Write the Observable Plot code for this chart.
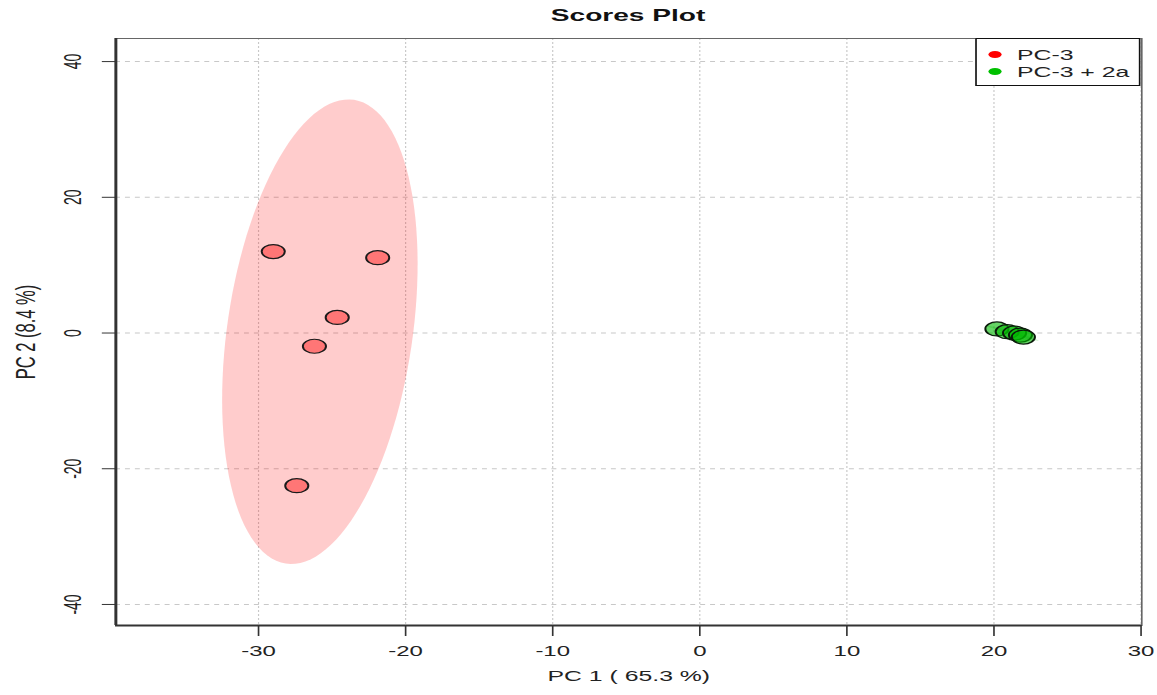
<!DOCTYPE html>
<html>
<head>
<meta charset="utf-8">
<script src="https://cdn.jsdelivr.net/npm/d3@7"></script>
<script src="https://cdn.jsdelivr.net/npm/@observablehq/plot@0.6"></script>
<style>
  html, body { margin: 0; padding: 0; background: #fff; overflow: hidden; }
  #wrap { position: relative; width: 700px; height: 695px; transform: scaleX(1.652857); transform-origin: 0 0; font-family: "Liberation Sans", Arial, sans-serif; }
  #title { height: 30px; line-height: 32px; text-align: center; font-weight: bold; font-size: 17px; color: #111; width: 700px; box-sizing: border-box; padding-left: 60px; }
  #legend { position: absolute; left: 589.9px; top: 38px; width: 100.4px; height: 48px; box-sizing: border-box; border: 1px solid #111; background: #fff; }
  .lrow { position: absolute; left: 24.4px; font-size: 15px; line-height: 14px; color: #222; white-space: nowrap; }
  .ldot { position: absolute; width: 8px; height: 7px; border-radius: 50%; }
</style>
</head>
<body>
<div id="wrap">
  <div id="title"></div>
  <div id="chart"></div>
  <div id="legend"></div>
</div>
<script>
// ---- data ----
const titleText = "Scores Plot";
const xLabel = "PC 1 ( 65.3 %)";
const yLabel = "PC 2 (8.4 %)";
const groups = ["PC-3", "PC-3 + 2a"];
const groupColors = ["#FF0000", "#00C000"];
const xTicks = [-30, -20, -10, 0, 10, 20, 30];
const yTicks = [-40, -20, 0, 20, 40];
const pc3X = [-29.0, -21.9, -24.65, -26.2, -27.4];
const pc3Y = [12.0, 11.1, 2.3, -1.95, -22.5];
const pc3aX = [20.2, 20.9, 21.4, 21.8, 22.0];
const pc3aY = [0.6, 0.2, 0.0, -0.3, -0.6];
const xDomain = [-39.7, 30.05];
const yDomain = [-43.1, 43.4];

// ---- helpers ----
const fmt = d => String(d);
function toRows(xs, ys, g) { return xs.map((x, i) => ({x, y: ys[i], group: g})); }
// 95% confidence ellipse (as in R's ellipse package) computed from the group's scores
function confEllipse(xs, ys, g, n = 120) {
  const mx = d3.mean(xs), my = d3.mean(ys);
  const sx = d3.deviation(xs), sy = d3.deviation(ys);
  let c = 0; for (let i = 0; i < xs.length; i++) c += (xs[i] - mx) * (ys[i] - my);
  c /= (xs.length - 1);
  const r = Math.max(-0.999, Math.min(0.999, c / (sx * sy)));
  const t = Math.sqrt(5.991465), dd = Math.acos(r);
  return d3.range(n).map(k => {
    const a = 2 * Math.PI * k / n;
    return {x: mx + t * sx * Math.cos(a + dd / 2), y: my + t * sy * Math.cos(a - dd / 2), group: g};
  });
}

const rowsA = toRows(pc3X, pc3Y, groups[0]);
const rowsB = toRows(pc3aX, pc3aY, groups[1]);
const ellA = confEllipse(pc3X, pc3Y, groups[0]);
const ellB = confEllipse(pc3aX, pc3aY, groups[1]);

document.getElementById("title").textContent = titleText;

const svg = Plot.plot({
  width: 700,
  height: 665,
  marginTop: 8,
  marginBottom: 70,
  marginLeft: 69.6,
  marginRight: 9.7,
  style: {fontFamily: "Liberation Sans, Arial, sans-serif", fontSize: "14.5px", color: "#222", background: "#fff", overflow: "visible"},
  x: {domain: xDomain},
  y: {domain: yDomain},
  marks: [
    Plot.ruleX(xTicks, {stroke: "#c8c8c8", strokeWidth: 0.7, strokeDasharray: "2,2"}),
    Plot.ruleY(yTicks, {stroke: "#c8c8c8", strokeWidth: 1, strokeDasharray: "3,3"}),
    Plot.line(ellA, {x: "x", y: "y", fill: groupColors[0], fillOpacity: 0.2, stroke: "none", curve: "linear-closed"}),
    Plot.line(ellB, {x: "x", y: "y", fill: groupColors[1], fillOpacity: 0.2, stroke: "none", curve: "linear-closed"}),
    Plot.dot(rowsA, {x: "x", y: "y", r: 7, fill: groupColors[0], fillOpacity: 0.42, stroke: "#1a1a1a", strokeWidth: 1.2}),
    Plot.dot(rowsB, {x: "x", y: "y", r: 7, fill: "#00B800", fillOpacity: 0.6, stroke: "#0a1a0a", strokeWidth: 1.2}),
    Plot.frame({stroke: "#666", strokeWidth: 1}),
    Plot.ruleX([xDomain[0]], {stroke: "#333", strokeWidth: 1.8}),
    Plot.ruleY([yDomain[0]], {stroke: "#333", strokeWidth: 2}),
    Plot.axisX({ticks: xTicks, tickSize: 11, tickPadding: 8.7, tickFormat: fmt, fontSize: 14.5, stroke: "#333", label: null}),
    Plot.axisY({ticks: yTicks, tickSize: 8, tickFormat: () => "", stroke: "#333", label: null}),
    Plot.text(yTicks, {y: d => d, text: fmt, frameAnchor: "left", dx: -25.4, rotate: -90, textAnchor: "middle", fontSize: 14, fill: "#222", ariaLabel: "ytick-labels"}),
    Plot.text([xLabel], {text: d => d, frameAnchor: "bottom", dy: 55.2, fontSize: 15, fill: "#222"}),
    Plot.text([yLabel], {text: d => d, frameAnchor: "left", dx: -54, rotate: -90, textAnchor: "middle", fontSize: 16.5, fill: "#222", ariaLabel: "ylabel"})
  ]
});

function squeeze(label, s) {
  svg.querySelectorAll(`g[aria-label="${label}"] text`).forEach(t => {
    const tr = t.getAttribute("transform");
    if (tr) t.setAttribute("transform", tr + ` scale(1,${s})`);
  });
}
squeeze("ytick-labels", 0.62);
squeeze("ylabel", 0.8);

document.getElementById("chart").appendChild(svg);

// legend
const legend = document.getElementById("legend");
const rowTops = [8.6, 25.6];
const dotTops = [11.5, 28.5];
groups.forEach((g, i) => {
  const dot = document.createElement("div");
  dot.className = "ldot";
  dot.style.left = "7.1px";
  dot.style.top = dotTops[i] + "px";
  dot.style.background = groupColors[i];
  legend.appendChild(dot);
  const lab = document.createElement("div");
  lab.className = "lrow";
  lab.style.top = rowTops[i] + "px";
  lab.textContent = g;
  legend.appendChild(lab);
});
</script>
</body>
</html>
